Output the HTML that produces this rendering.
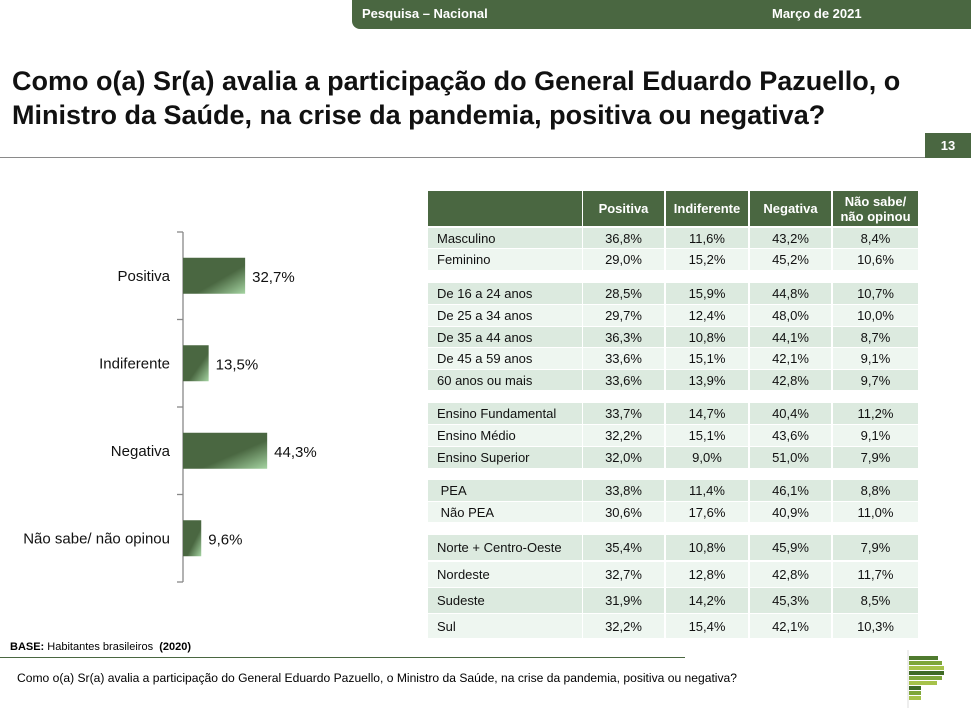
<!DOCTYPE html>
<html><head><meta charset="utf-8">
<style>
body{margin:0;width:971px;height:715px;position:relative;background:#fff;font-family:"Liberation Sans",Arial,sans-serif;overflow:hidden;color:#000}
.abs{position:absolute}
#hdr{left:352px;top:0;width:619px;height:29px;background:#4a6741;border-bottom-left-radius:8px;color:#fff;font-weight:bold;font-size:13px}
#title{left:12px;top:64px;font-size:27px;font-weight:bold;line-height:34px;color:#111;white-space:nowrap}
.cell{position:absolute;font-size:13px;color:#111;display:flex;align-items:center;justify-content:center;box-sizing:border-box}
.hcell{position:absolute;background:#4a6741;color:#fff;font-weight:bold;font-size:13px;display:flex;align-items:center;justify-content:center;text-align:center;line-height:15px}
</style></head><body>
<div id="hdr" class="abs">
 <span class="abs" style="left:10px;top:6px">Pesquisa – Nacional</span>
 <span class="abs" style="left:420px;top:6px">Março de 2021</span>
</div>
<div id="title" class="abs">Como o(a) Sr(a) avalia a participação do General Eduardo Pazuello, o<br>Ministro da Saúde, na crise da pandemia, positiva ou negativa?</div>
<div class="abs" style="left:0;top:157px;width:925px;height:1px;background:#8a8a8a"></div>
<div class="abs" style="left:925px;top:133px;width:46px;height:25px;background:#4a6741;color:#fff;font-weight:bold;font-size:13px;text-align:center;line-height:25px">13</div>

<svg id="chart" class="abs" style="left:0;top:0" width="420" height="600">
<defs><linearGradient id="bg" x1="0" y1="0" x2="1" y2="1"><stop offset="0.6" stop-color="#4a6741"/><stop offset="1" stop-color="#a5d4a2"/></linearGradient></defs>
</svg>

<div id="table"></div>

<div class="abs" style="left:10px;top:641px;font-size:11px"><b>BASE:</b> Habitantes brasileiros &nbsp;<b>(2020)</b></div>
<div class="abs" style="left:0;top:657px;width:685px;height:1px;background:#4a6741"></div>
<div class="abs" style="left:17px;top:671px;font-size:12.1px;white-space:nowrap">Como o(a) Sr(a) avalia a participação do General Eduardo Pazuello, o Ministro da Saúde, na crise da pandemia, positiva ou negativa?</div>
<svg class="abs" style="left:905px;top:648px" width="45" height="62">
 <line x1="3" y1="2" x2="3" y2="60" stroke="#ddd"/>
 <rect x="4" y="8" width="29" height="4" fill="#4f7a2e"/><rect x="4" y="13" width="33" height="4" fill="#7ea63a"/>
 <rect x="4" y="18" width="35" height="4" fill="#a6c24a"/><rect x="4" y="23" width="35" height="4" fill="#3f6a26"/>
 <rect x="4" y="28" width="33" height="4" fill="#7ea63a"/><rect x="4" y="33" width="28" height="4" fill="#a6c24a"/>
 <rect x="4" y="38" width="12" height="4" fill="#3f6a26"/><rect x="4" y="43" width="12" height="4" fill="#7ea63a"/><rect x="4" y="48" width="12" height="4" fill="#a6c24a"/>
</svg>

<script>
const categories=["Positiva","Indiferente","Negativa","Não sabe/ não opinou"];
const values=[32.7,13.5,44.3,9.6];
const valueLabels=["32,7%","13,5%","44,3%","9,6%"];
const svg=document.getElementById('chart');
const NS='http://www.w3.org/2000/svg';
const axX=183,top0=232,bot0=582,band=(bot0-top0)/categories.length;
const xs=v=>axX+v*1.9;
function mk(t,a){const e=document.createElementNS(NS,t);for(const k in a)e.setAttribute(k,a[k]);svg.appendChild(e);return e;}
const ax=mk('line',{x1:axX,y1:top0,x2:axX,y2:bot0,stroke:'#888','stroke-width':1.3});


for(let i=0;i<=categories.length;i++){const y=top0+i*band;const t=mk('line',{x1:axX-6,y1:y,x2:axX,y2:y,stroke:'#888','stroke-width':1.3});

}
categories.forEach((c,i)=>{
 const cy=top0+band*(i+0.5);
 const r=mk('rect',{x:axX,y:cy-18,width:xs(values[i])-axX,height:36,fill:'url(#bg)'});
 
 
 const l=mk('text',{x:170,y:cy+5,'text-anchor':'end','font-size':15,fill:'#111'});l.textContent=c;
 
 
 const v=mk('text',{x:xs(values[i])+7,y:cy+6,'font-size':15,fill:'#111'});v.textContent=valueLabels[i];
 
 
});

const colHeads=["Positiva","Indiferente","Negativa","Não sabe/<br>não opinou"];
const rowLabels=["Masculino","Feminino","De 16 a 24 anos","De 25 a 34 anos","De 35 a 44 anos","De 45 a 59 anos","60 anos ou mais","Ensino Fundamental","Ensino Médio","Ensino Superior"," PEA"," Não PEA","Norte + Centro-Oeste","Nordeste","Sudeste","Sul"];
const colPos=["36,8%","29,0%","28,5%","29,7%","36,3%","33,6%","33,6%","33,7%","32,2%","32,0%","33,8%","30,6%","35,4%","32,7%","31,9%","32,2%"];
const colInd=["11,6%","15,2%","15,9%","12,4%","10,8%","15,1%","13,9%","14,7%","15,1%","9,0%","11,4%","17,6%","10,8%","12,8%","14,2%","15,4%"];
const colNeg=["43,2%","45,2%","44,8%","48,0%","44,1%","42,1%","42,8%","40,4%","43,6%","51,0%","46,1%","40,9%","45,9%","42,8%","45,3%","42,1%"];
const colNs=["8,4%","10,6%","10,7%","10,0%","8,7%","9,1%","9,7%","11,2%","9,1%","7,9%","8,8%","11,0%","7,9%","11,7%","8,5%","10,3%"];
const rowTops=[228,249,283,305,327,348,370,403,425,447,480,502,535,562,588,614];
const rowHs=[20,21,21,21,20,21,20,21,21,21,21,20,25,25,25,24];
const rowDark=[1,0,1,0,1,0,1,1,0,1,1,0,1,0,1,0];
const cx=[428,583,666,750,833],cw=[154,81,82,81,85];
const tb=document.getElementById('table');
const hc=document.createElement('div');hc.className='hcell';
hc.style.cssText='left:428px;top:191px;width:154px;height:35px';


tb.appendChild(hc);
colHeads.forEach((h,j)=>{const d=document.createElement('div');d.className='hcell';d.innerHTML=h;
 d.style.cssText=`left:${cx[j+1]}px;top:191px;width:${cw[j+1]}px;height:35px`;
 
 
 tb.appendChild(d);});
const cols=[rowLabels,colPos,colInd,colNeg,colNs];
rowLabels.forEach((r,i)=>{cols.forEach((col,j)=>{const d=document.createElement('div');d.className='cell';
 d.textContent=col[i];
 d.style.cssText=`left:${cx[j]}px;top:${rowTops[i]}px;width:${cw[j]}px;height:${rowHs[i]}px;background:${rowDark[i]?'#dceadf':'#eef6f0'};`+(j==0?'justify-content:flex-start;padding-left:9px;white-space:pre;':'');
 
 
 tb.appendChild(d);});});
</script>
</body></html>
